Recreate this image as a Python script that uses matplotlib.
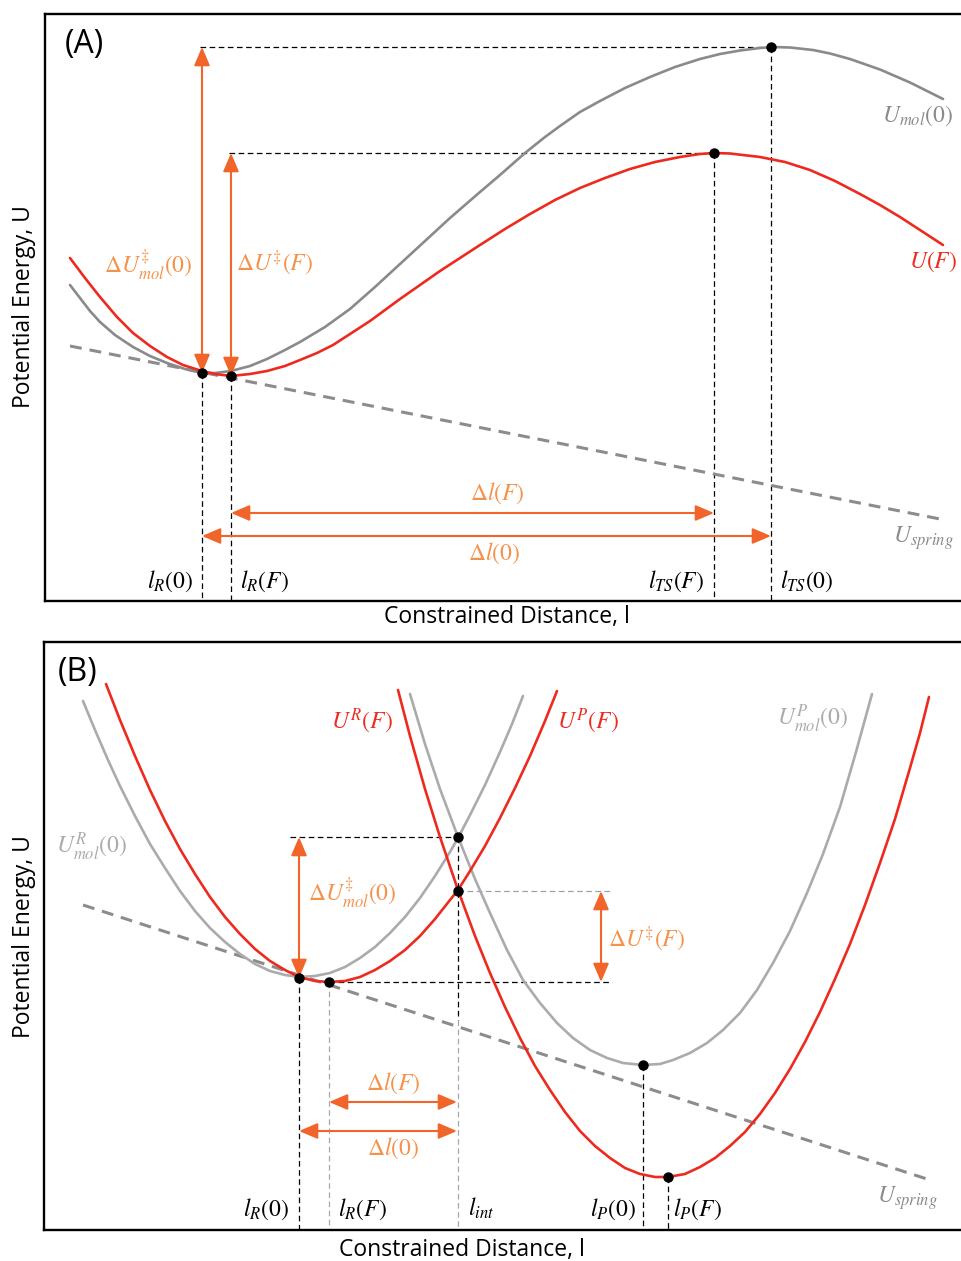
import matplotlib
matplotlib.use('Agg')
import matplotlib.pyplot as plt

plt.rcParams['mathtext.fontset'] = 'stix'
plt.rcParams['font.family'] = ['Open Sans', 'DejaVu Sans']

RED = '#EE2A1F'
GREY_A = '#8A8A8A'
GREY_B = '#ABABAB'
SPRING = '#8C8C8C'
ORANGE = '#F2652A'
ORANGE_TXT = '#F5924A'

# ---------- panel A: curves (pixel units) ----------
a_mol_x = [70, 80, 90, 100, 115, 133, 150, 167, 185, 202, 215, 231, 250, 267, 285, 300,
           325, 350, 375, 400, 425, 450, 480, 500, 525, 545, 560, 580, 600, 625, 650, 675,
           700, 720, 740, 760, 772, 790, 813, 830, 850, 880, 910, 943]
a_mol_y = [285, 298, 311, 322, 335, 347, 356, 363, 369, 373, 373, 371, 366, 359, 350, 342,
           327, 309, 287, 264, 241, 218, 192, 175, 153, 137, 126, 112, 101, 88, 77, 67,
           59, 54, 50.5, 48, 47, 47.5, 50, 53.5, 59, 69.5, 82.5, 99]

a_f_x = [70, 85, 100, 117, 133, 150, 167, 183, 202, 215, 231, 250, 267, 285, 300, 317, 333,
         350, 370, 400, 440, 480, 505, 530, 555, 580, 605, 630, 655, 680, 700, 714, 730,
         760, 785, 810, 835, 860, 880, 900, 920, 943]
a_f_y = [258, 278, 297, 317, 333, 346, 357, 365, 371, 374, 376, 374, 371, 366, 360, 353, 345,
         334, 321, 299, 271, 245, 229, 214, 200, 188, 178, 169, 162, 157, 154, 153, 153.5,
         157, 162, 170, 181, 194, 205, 217, 230, 245]

a_spring_x = [70, 945]
a_spring_y = [346, 520]

# stationary points: l_R(0), l_R(F), l_TS(F), l_TS(0)
a_pts_x = [202, 231, 714, 771]
a_pts_y = [373, 376, 153, 47]
a_l_labels = [r'$l_R(0)$', r'$l_R(F)$', r'$l_{TS}(F)$', r'$l_{TS}(0)$']
a_dl_y = [513, 536]          # heights of the Delta l arrows

# ---------- panel B ----------
b_molR_x = [83, 95, 108, 120, 135, 150, 165, 180, 195, 210, 225, 240, 255, 270, 285, 299,
            315, 330, 345, 360, 375, 390, 405, 420, 435, 450, 458, 470, 485, 500, 512, 523]
b_molR_y = [701, 730, 760, 786, 816, 844, 868, 891, 911, 928, 942, 954, 964, 971, 975, 977,
            976, 973, 967, 958, 947, 933, 917, 898, 876, 852, 838, 815, 785, 752, 724, 696]

b_fR_x = [106, 120, 135, 150, 165, 180, 195, 210, 225, 240, 255, 270, 285, 299, 315, 329,
          345, 360, 375, 390, 405, 420, 435, 450, 458, 470, 485, 500, 515, 530, 545, 557]
b_fR_y = [684, 720, 756, 790, 821, 849, 874, 897, 917, 934, 949, 961, 970, 977, 981, 982,
          981, 977, 970, 961, 950, 936, 919, 900, 890, 871, 846, 818, 788, 756, 721, 691]

b_molP_x = [410, 425, 440, 458, 475, 490, 507, 523, 540, 557, 573, 590, 607, 623, 643, 660,
            673, 690, 707, 723, 740, 757, 773, 790, 807, 823, 840, 856, 872]
b_molP_y = [694, 744, 789, 837, 879, 913, 950, 980, 1003, 1023, 1038, 1050, 1058, 1063, 1065,
            1064, 1060, 1053, 1043, 1030, 1013, 990, 963, 931, 893, 854, 807, 752, 694]

b_fP_x = [398, 410, 425, 440, 458, 475, 490, 505, 520, 535, 550, 565, 580, 595, 610, 625,
          640, 655, 668, 685, 700, 715, 730, 745, 760, 775, 790, 805, 820, 835, 850, 865,
          880, 895, 910, 920, 929]
b_fP_y = [690, 736, 789, 837, 890, 936, 973, 1007, 1038, 1066, 1090, 1112, 1131, 1146, 1158,
          1168, 1174, 1177, 1177, 1174, 1167, 1158, 1146, 1132, 1114, 1093, 1069, 1042, 1012,
          979, 944, 905, 863, 819, 768, 733, 697]

b_spring_x = [83, 930]
b_spring_y = [905, 1180]

# minima / crossings: l_R(0), l_R(F), upper crossing, lower crossing, l_P(0), l_P(F)
b_pts_x = [299, 329, 458, 458, 643, 668]
b_pts_y = [978, 982, 837, 891, 1065, 1177]
b_l_labels = [r'$l_R(0)$', r'$l_R(F)$', r'$l_{int}$', r'$l_P(0)$', r'$l_P(F)$']
b_dl_y = [1102, 1131]

FS_MATH = 17
FS_LAB = 16.5

fig = plt.figure(figsize=(9.61, 12.61), dpi=100)


def panel(left, top, bottom, right=968):
    ax = fig.add_axes([left / 961, 1 - bottom / 1261, (right - left) / 961,
                       (bottom - top) / 1261])
    ax.set_xlim(left, right)
    ax.set_ylim(bottom, top)
    ax.set_xticks([])
    ax.set_yticks([])
    for s in ['left', 'top', 'bottom']:
        ax.spines[s].set_linewidth(1.7)
    ax.spines['right'].set_visible(False)
    return ax


def thin(ax, xs, ys, color='black'):
    ax.plot(xs, ys, color=color, lw=0.9, dashes=(4.5, 2.8))


def arrow(ax, p0, p1):
    ax.annotate('', xy=p1, xytext=p0,
                arrowprops=dict(arrowstyle='<|-|>,head_length=0.75,head_width=0.32',
                                color=ORANGE, lw=1.5, shrinkA=0, shrinkB=0,
                                mutation_scale=15))


def curve(ax, xs, ys, color):
    ax.plot(xs, ys, color=color, lw=1.9, solid_capstyle='round', solid_joinstyle='round')


def mtext(ax, x, y, s, color='black'):
    ax.text(x, y, s, color=color, fontsize=FS_MATH, ha='center', va='center')


# ================= (A) =================
ax = panel(45, 14, 601)
bot = 601

# guide lines
thin(ax, [a_pts_x[0] - 2, a_pts_x[3]], [a_pts_y[3], a_pts_y[3]])
thin(ax, [a_pts_x[1] - 2, a_pts_x[2]], [a_pts_y[2], a_pts_y[2]])
for x, y in zip(a_pts_x, a_pts_y):
    thin(ax, [x, x], [y, bot])

ax.plot(a_spring_x, a_spring_y, color=SPRING, lw=2.2, dashes=(3.9, 2.6))
curve(ax, a_mol_x, a_mol_y, GREY_A)
curve(ax, a_f_x, a_f_y, RED)
ax.plot(a_pts_x, a_pts_y, 'o', color='black', ms=6.5, zorder=5)

arrow(ax, (a_pts_x[0], a_pts_y[0]), (a_pts_x[0], a_pts_y[3]))
arrow(ax, (a_pts_x[1], a_pts_y[1]), (a_pts_x[1], a_pts_y[2]))
arrow(ax, (a_pts_x[1], a_dl_y[0]), (a_pts_x[2], a_dl_y[0]))
arrow(ax, (a_pts_x[0], a_dl_y[1]), (a_pts_x[3], a_dl_y[1]))

ax.text(84, 45, '(A)', fontsize=23, ha='center', va='center')
mtext(ax, 148, 265, r'$\Delta U^{\ddagger}_{mol}(0)$', ORANGE_TXT)
mtext(ax, 275, 263, r'$\Delta U^{\ddagger}(F)$', ORANGE_TXT)
mtext(ax, 497, 493, r'$\Delta l(F)$', ORANGE_TXT)
mtext(ax, 494, 553, r'$\Delta l(0)$', ORANGE_TXT)
mtext(ax, 918, 116, r'$U_{mol}(0)$', GREY_A)
mtext(ax, 933, 262, r'$U(F)$', RED)
mtext(ax, 923, 538, r'$U_{spring}$', GREY_A)
for x, lab, off in zip(a_pts_x, a_l_labels, [-32, 33, -38, 36]):
    mtext(ax, x + off, 581, lab)

fig.text(507 / 961, 1 - 617 / 1261, 'Constrained Distance, l', fontsize=FS_LAB,
         ha='center', va='center')
fig.text(24 / 961, 1 - 307 / 1261, 'Potential Energy, U', fontsize=FS_LAB, rotation=90,
         ha='center', va='center')

# ================= (B) =================
ax = panel(44, 642, 1230)
bot = 1230

thin(ax, [290, b_pts_x[2]], [b_pts_y[2], b_pts_y[2]])
thin(ax, [b_pts_x[1], 612], [b_pts_y[1], b_pts_y[1]])
thin(ax, [b_pts_x[3], 612], [b_pts_y[3], b_pts_y[3]], color='#A0A0A0')
thin(ax, [b_pts_x[0]] * 2, [b_pts_y[0], bot])
thin(ax, [b_pts_x[1]] * 2, [b_pts_y[1], bot], color='#A8A8A8')
thin(ax, [b_pts_x[2]] * 2, [b_pts_y[2], 1020])
thin(ax, [b_pts_x[2]] * 2, [1020, bot], color='#A8A8A8')
thin(ax, [b_pts_x[4]] * 2, [b_pts_y[4], bot])
thin(ax, [b_pts_x[5]] * 2, [b_pts_y[5], bot])

ax.plot(b_spring_x, b_spring_y, color=SPRING, lw=2.2, dashes=(3.9, 2.6))
curve(ax, b_molR_x, b_molR_y, GREY_B)
curve(ax, b_molP_x, b_molP_y, GREY_B)
curve(ax, b_fR_x, b_fR_y, RED)
curve(ax, b_fP_x, b_fP_y, RED)
ax.plot(b_pts_x, b_pts_y, 'o', color='black', ms=6.5, zorder=5)

arrow(ax, (b_pts_x[0], b_pts_y[0]), (b_pts_x[0], b_pts_y[2]))
arrow(ax, (601, b_pts_y[1]), (601, b_pts_y[3]))
arrow(ax, (b_pts_x[1], b_dl_y[0]), (b_pts_x[2] - 1, b_dl_y[0]))
arrow(ax, (b_pts_x[0], b_dl_y[1]), (b_pts_x[2] - 1, b_dl_y[1]))

ax.text(78, 672, '(B)', fontsize=23, ha='center', va='center')
mtext(ax, 92, 847, r'$U^{R}_{mol}(0)$', GREY_B)
mtext(ax, 362, 721, r'$U^{R}(F)$', RED)
mtext(ax, 588, 721, r'$U^{P}(F)$', RED)
mtext(ax, 813, 719, r'$U^{P}_{mol}(0)$', GREY_B)
mtext(ax, 352, 893, r'$\Delta U^{\ddagger}_{mol}(0)$', ORANGE_TXT)
mtext(ax, 647, 939, r'$\Delta U^{\ddagger}(F)$', ORANGE_TXT)
mtext(ax, 393, 1083, r'$\Delta l(F)$', ORANGE_TXT)
mtext(ax, 393, 1148, r'$\Delta l(0)$', ORANGE_TXT)
mtext(ax, 907, 1198, r'$U_{spring}$', GREY_A)
for x, lab, off in zip([b_pts_x[0], b_pts_x[1], b_pts_x[2], b_pts_x[4], b_pts_x[5]],
                       b_l_labels, [-33, 33, 23, -30, 29]):
    mtext(ax, x + off, 1209, lab)

fig.text(462 / 961, 1 - 1250 / 1261, 'Constrained Distance, l', fontsize=FS_LAB,
         ha='center', va='center')
fig.text(24 / 961, 1 - 937 / 1261, 'Potential Energy, U', fontsize=FS_LAB, rotation=90,
         ha='center', va='center')

fig.savefig('out.png', dpi=100)
